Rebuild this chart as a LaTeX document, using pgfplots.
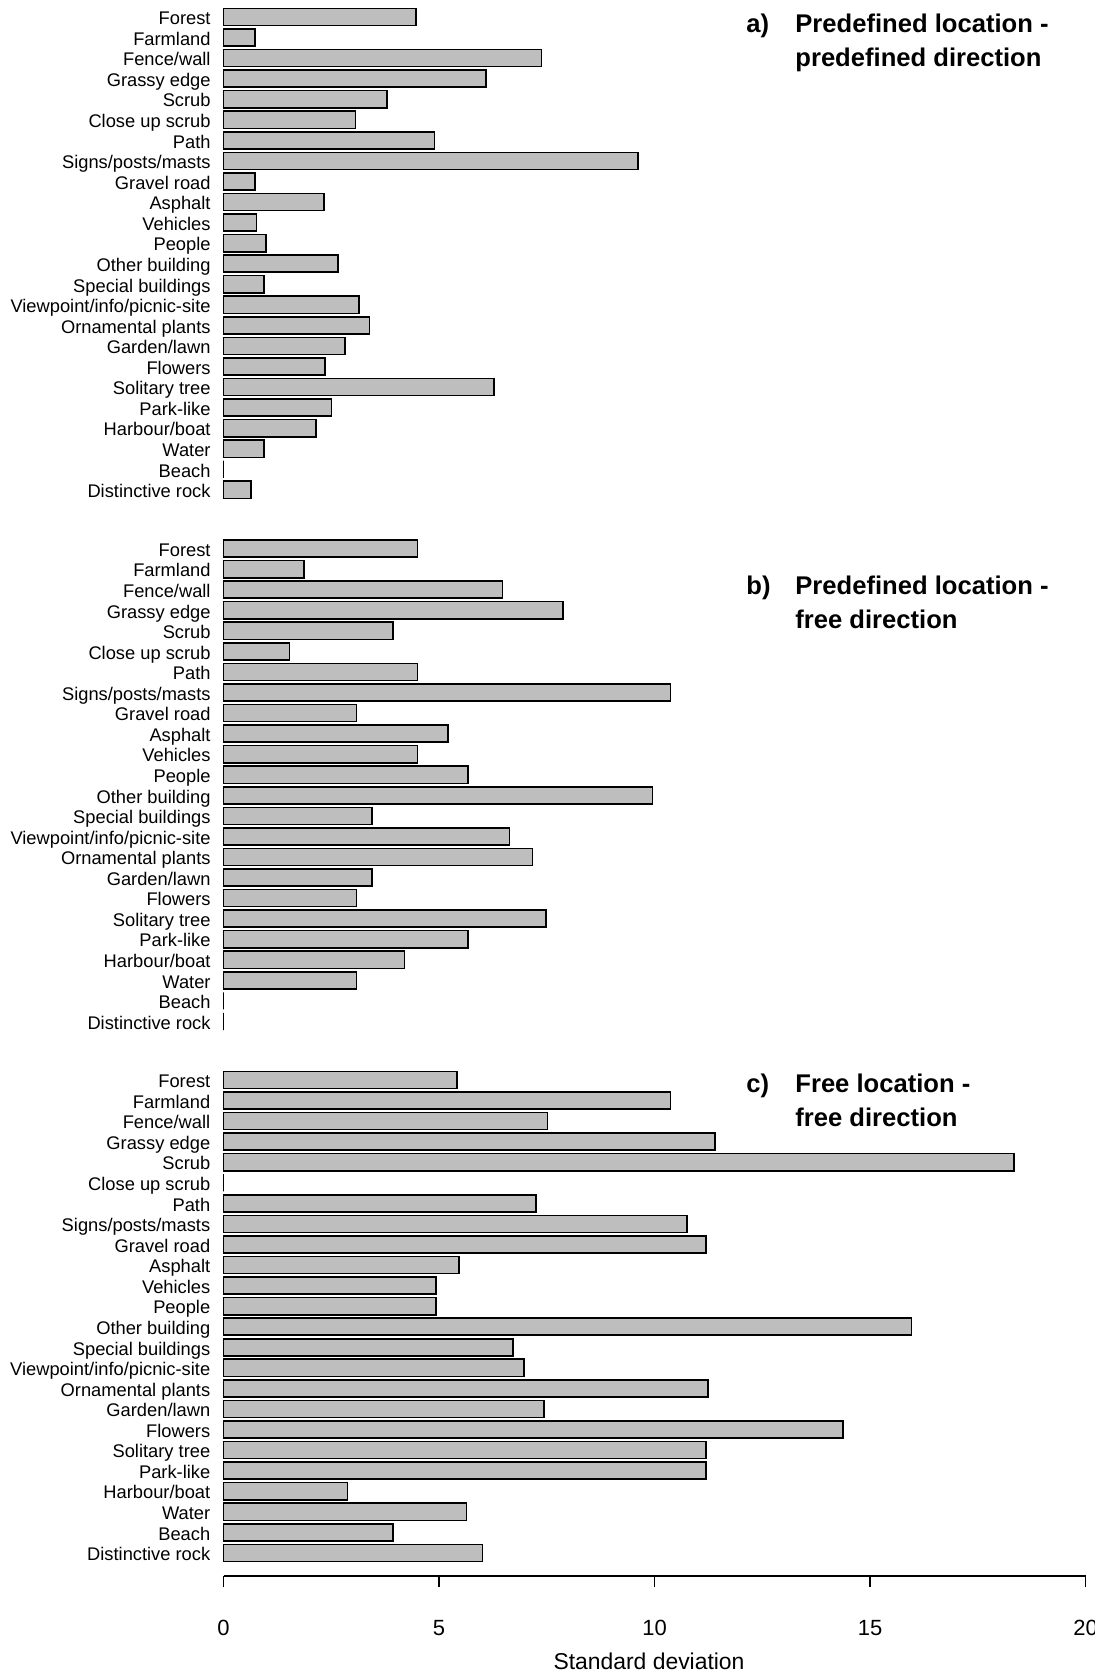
\documentclass[border=0pt]{standalone}
\usepackage{pgfplots}
\usepackage{pgfplotstable}
\pgfplotsset{compat=1.18}
\usepackage{fontspec}
\setmainfont{Liberation Sans}
\definecolor{bargray}{RGB}{190,190,190}

\pgfplotstableread{
idx val
0 4.46
1 0.73
2 7.38
3 6.09
4 3.79
5 3.06
6 4.90
7 9.61
8 0.73
9 2.33
10 0.77
11 0.98
12 2.65
13 0.94
14 3.14
15 3.39
16 2.82
17 2.36
18 6.27
19 2.51
20 2.15
21 0.94
22 0
23 0.64
}\tablea

\pgfplotstableread{
idx val
0 4.50
1 1.87
2 6.47
3 7.87
4 3.93
5 1.53
6 4.50
7 10.37
8 3.09
9 5.21
10 4.50
11 5.67
12 9.95
13 3.44
14 6.64
15 7.17
16 3.44
17 3.09
18 7.48
19 5.67
20 4.20
21 3.09
22 0
23 0
}\tableb

\pgfplotstableread{
idx val
0 5.42
1 10.37
2 7.52
3 11.40
4 18.34
5 0
6 7.25
7 10.75
8 11.19
9 5.46
10 4.93
11 4.93
12 15.96
13 6.71
14 6.97
15 11.24
16 7.44
17 14.38
18 11.19
19 11.19
20 2.88
21 5.64
22 3.93
23 6.01
}\tablec

\pgfplotsset{
  panel/.style={
    scale only axis, width=431pt, xmin=0, xmax=20,
    y dir=reverse, ymin=-0.5,
    xbar, bar width=8.57pt,
    ytick={0,...,23},
    yticklabels={Forest,Farmland,Fence/wall,Grassy edge,Scrub,Close up scrub,Path,Signs/posts/masts,Gravel road,Asphalt,Vehicles,People,Other building,Special buildings,Viewpoint/info/picnic-site,Ornamental plants,Garden/lawn,Flowers,Solitary tree,Park-like,Harbour/boat,Water,Beach,Distinctive rock},
    yticklabel style={font=\fontsize{9.15}{10}\selectfont, inner sep=0pt, text height=6.55pt, text depth=0pt, yshift=-0.6pt},
    axis lines*=left,
    y axis line style={draw=none}, ytick style={draw=none},
    anchor=north west,
    clip=false,
  },
  barstyle/.style={draw=black, fill=bargray, line width=0.8pt},
}

\begin{document}
\begin{tikzpicture}
\useasboundingbox (0pt,0pt) rectangle (547pt,-836.5pt);

\begin{axis}[panel, at={(111.75pt,-3.35pt)}, height=246.72pt, ymax=23.5, hide x axis,
  yticklabel style={xshift=-2pt}]
\addplot[barstyle] table[x=val, y=idx] {\tablea};
\end{axis}

\begin{axis}[panel, at={(111.75pt,-269.15pt)}, height=246.72pt, ymax=23.5, hide x axis,
  yticklabel style={xshift=-2pt}]
\addplot[barstyle] table[x=val, y=idx] {\tableb};
\end{axis}

\begin{axis}[panel, at={(111.75pt,-534.85pt)}, height=253.2pt, ymax=24.13,
  yticklabel style={xshift=-0.93pt},
  xtick={0,5,10,15,20}, tick align=outside, major tick length=5.5pt,
  x axis line style={line width=0.8pt}, xtick style={line width=0.8pt, black},
  /pgf/number format/assume math mode=true,
  xticklabel style={font=\fontsize{11}{13}\selectfont, anchor=north, inner sep=0pt, yshift=-16.5pt},
  xlabel={Standard deviation},
  x label style={font=\fontsize{11.45}{13}\selectfont, at={(axis description cs:0.5,0)}, anchor=base, inner sep=0pt, yshift=-46.7pt, xshift=-2.75pt},
]
\addplot[barstyle] table[x=val, y=idx] {\tablec};
\end{axis}

\begin{scope}[every node/.style={anchor=base west, inner sep=0pt, font=\bfseries\fontsize{12.8}{15}\selectfont}]
\node at (373pt,-16.35pt) {a)};
\node at (397.5pt,-16.35pt) {Predefined location -};
\node at (397.5pt,-33.35pt) {predefined direction};
\node at (373pt,-297.1pt) {b)};
\node at (397.5pt,-297.1pt) {Predefined location -};
\node at (397.5pt,-314.1pt) {free direction};
\node at (373pt,-546.3pt) {c)};
\node at (397.5pt,-546.3pt) {Free location -};
\node at (397.5pt,-563.3pt) {free direction};
\end{scope}
\end{tikzpicture}
\end{document}
